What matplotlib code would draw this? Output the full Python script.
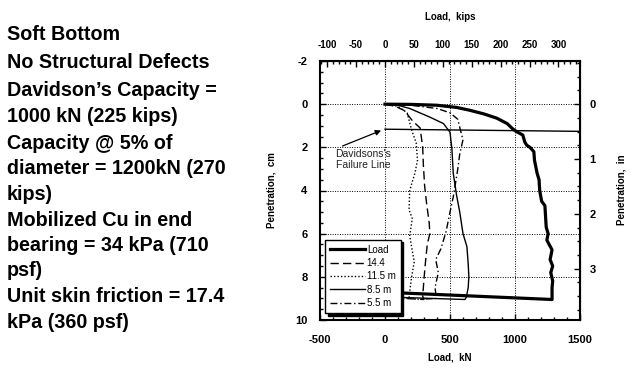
import matplotlib
matplotlib.use("Agg")
import matplotlib.pyplot as plt
from matplotlib.ticker import MultipleLocator, FixedLocator

plt.rcParams['font.family'] = ['Liberation Sans', 'DejaVu Sans']
plt.rcParams['axes.unicode_minus'] = False

# ---- data (kN, cm) ----
load_kN = [0, 200, 400, 550, 650, 760, 860, 940, 985, 1020, 1060, 1075, 1090, 1115, 1145, 1150,
           1170, 1185, 1190, 1205, 1230, 1240, 1255, 1245, 1285, 1270, 1290, 1275, 1290, 1285,
           1285, 140, 0]
load_cm = [0, 0.01, 0.05, 0.15, 0.28, 0.45, 0.65, 0.9, 1.16, 1.3, 1.43, 1.75, 1.9, 2.0, 2.2, 2.6,
           3.2, 3.5, 4.0, 4.5, 4.7, 5.7, 6.0, 6.3, 6.75, 7.2, 7.5, 7.8, 8.2, 8.5,
           9.05, 8.75, 8.7]

s144_kN = [0, 80, 150, 215, 270, 290, 295, 305, 320, 340, 345, 325, 310, 300, 290, 300, 150]
s144_cm = [0, 0.1, 0.3, 0.8, 1.1, 2.0, 2.8, 3.8, 4.6, 5.5, 6.0, 6.5, 7.4, 8.1, 8.9, 9.05, 9.0]

s115_kN = [0, 100, 170, 205, 240, 250, 230, 190, 185, 210, 190, 210, 225, 205, 190, 185, 100]
s115_cm = [0, 0.1, 0.4, 1.2, 1.8, 2.6, 3.2, 4.0, 4.9, 5.3, 6.1, 6.8, 7.3, 8.0, 8.7, 9.0, 9.0]

s85_kN = [0, 100, 190, 345, 450, 500, 515, 525, 550, 575, 600, 630, 640, 645, 640, 625, 615, 100]
s85_cm = [0, 0.05, 0.2, 0.6, 0.9, 1.3, 2.1, 3.2, 4.2, 5.0, 6.0, 6.6, 7.4, 8.0, 8.5, 8.95, 9.05, 8.95]

s55_kN = [0, 200, 400, 500, 560, 580, 600, 575, 560, 525, 500, 470, 430, 390, 410, 385, 395, 250]
s55_cm = [0, 0.05, 0.2, 0.4, 0.7, 1.2, 1.65, 2.3, 3.0, 4.3, 5.0, 5.9, 6.7, 7.2, 7.8, 8.5, 9.0, 9.05]

failure_kN = [0, 1500]
failure_cm = [1.16, 1.26]

x_ticks_kN = [-500, 0, 500, 1000, 1500]
y_ticks_cm = [-2, 0, 2, 4, 6, 8, 10]
x_ticks_kips = [-100, -50, 0, 50, 100, 150, 200, 250, 300]
y_ticks_in = [0, 1, 2, 3]

notes = ["Soft Bottom", "No Structural Defects", "Davidson\u2019s Capacity =",
         "1000 kN (225 kips)", "Capacity @ 5% of", "diameter = 1200kN (270",
         "kips)", "Mobilized Cu in end", "bearing = 34 kPa (710", "psf)",
         "Unit skin friction = 17.4", "kPa (360 psf)"]
note_y_px = [35, 63, 91, 117, 144, 169, 194, 220, 246, 271, 297, 323]

KN_PER_KIP = 4.448
CM_PER_IN = 2.54

W, H = 635, 382
fig = plt.figure(figsize=(W / 100, H / 100), dpi=100)
ax = fig.add_axes([320 / W, 1 - 320 / H, 260 / W, 259 / H])

ax.plot(load_kN, load_cm, color='black', lw=2.3, label='Load', zorder=3)
ax.plot(s144_kN, s144_cm, color='black', lw=1.0, ls=(0, (6, 3)), label='14.4')
ax.plot(s115_kN, s115_cm, color='black', lw=1.0, ls=(0, (1, 1.5)), label='11.5 m')
ax.plot(s85_kN, s85_cm, color='black', lw=1.0, ls='-', label='8.5 m')
ax.plot(s55_kN, s55_cm, color='black', lw=1.0, ls=(0, (5, 2, 1, 2)), label='5.5 m')
ax.plot(failure_kN, failure_cm, color='black', lw=1.0)

TICK_FS = 8
ax.set_xlim(-500, 1500)
ax.set_ylim(10, -2)
ax.xaxis.set_major_locator(FixedLocator(x_ticks_kN))
ax.yaxis.set_major_locator(FixedLocator(y_ticks_cm))
ax.xaxis.set_minor_locator(MultipleLocator(100))
ax.yaxis.set_minor_locator(MultipleLocator(0.5))
ax.grid(True, which='major', ls=(0, (1, 1.5)), color='black', lw=0.7)
for s in ax.spines.values():
    s.set_linewidth(1.5)
ax.tick_params(which='both', direction='in', width=1.0, labelsize=TICK_FS)
ax.tick_params(which='major', length=4)
ax.tick_params(which='minor', length=2.5)
ax.tick_params(axis='x', which='major', pad=11)
ax.tick_params(axis='y', which='major', pad=9)
for lab in ax.get_xticklabels() + ax.get_yticklabels():
    lab.set_fontweight('bold')

top = ax.secondary_xaxis('top', functions=(lambda v: v / KN_PER_KIP, lambda v: v * KN_PER_KIP))
top.xaxis.set_major_locator(FixedLocator(x_ticks_kips))
top.xaxis.set_minor_locator(MultipleLocator(10))
top.tick_params(which='both', direction='in', width=1.0, labelsize=7, pad=8)
top.tick_params(which='major', length=4)
top.tick_params(which='minor', length=2.5)
for lab in top.get_xticklabels():
    lab.set_fontweight('bold')

right = ax.secondary_yaxis('right', functions=(lambda v: v / CM_PER_IN, lambda v: v * CM_PER_IN))
right.yaxis.set_major_locator(FixedLocator(y_ticks_in))
right.yaxis.set_minor_locator(MultipleLocator(0.25))
right.tick_params(which='both', direction='in', width=1.0, labelsize=TICK_FS, pad=7)
right.tick_params(which='major', length=4)
right.tick_params(which='minor', length=2.5)
for lab in right.get_yticklabels():
    lab.set_fontweight('bold')

leg = ax.legend(loc='lower left', bbox_to_anchor=(5 / 260, 7 / 259), borderaxespad=0,
                fontsize=7, frameon=True, fancybox=False, edgecolor='black',
                framealpha=1, handlelength=3.6, handletextpad=0.2, labelspacing=0.35,
                borderpad=0.5, shadow={'color': 'black', 'alpha': 1.0})
leg.get_frame().set_linewidth(1.0)

ax.annotate("Davidsons's\nFailure Line", xy=(-30, 1.22), xytext=(-380, 2.55),
            fontsize=7.5, color='#222222', ha='left', va='center', linespacing=1.1,
            arrowprops=dict(arrowstyle='-|>', color='black', lw=0.9,
                            shrinkA=0, shrinkB=0, mutation_scale=8,
                            relpos=(0.0, 1.0)))

fig.text(450 / W, 1 - 17 / H, "Load,  kips", ha='center', va='center', fontsize=7, fontweight='bold')
fig.text(450 / W, 1 - 358 / H, "Load,  kN", ha='center', va='center', fontsize=7, fontweight='bold')
fig.text(272 / W, 1 - 190 / H, "Penetration,  cm", ha='center', va='center', rotation=90,
         fontsize=7, fontweight='bold')
fig.text(621 / W, 1 - 190 / H, "Penetration,  in", ha='center', va='center', rotation=90,
         fontsize=7, fontweight='bold')

for t, yp in zip(notes, note_y_px):
    fig.text(7 / W, 1 - yp / H, t, ha='left', va='center', fontsize=14.2, fontweight='bold')

fig.savefig("out.png", dpi=100)
